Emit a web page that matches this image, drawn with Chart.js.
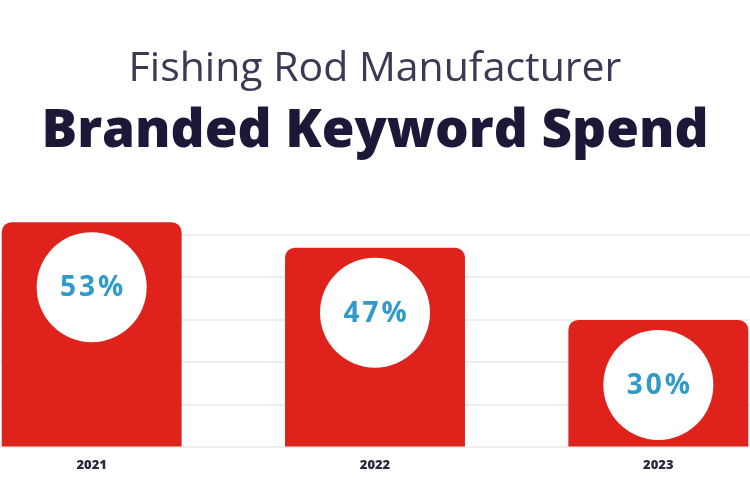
<!DOCTYPE html>
<html>
<head>
<meta charset="utf-8">
<script src="https://cdn.jsdelivr.net/npm/chart.js@4.4.0/dist/chart.umd.min.js"></script>
<style>
  html, body { margin: 0; padding: 0; background: #fff; overflow: hidden; }
  body { width: 750px; height: 500px; position: relative; }
  #wrap { position: absolute; left: -50px; top: 0; width: 850px; height: 500px; }
</style>
</head>
<body>
<div id="wrap"><canvas id="spendChart"></canvas></div>
<script>
const years = ['2021', '2022', '2023'];
const spendShare = [53, 47, 30];
const yMax = 60;
const yStep = 10;

// white disc with the percentage, sitting near the top of each bar
const circleLabels = {
    id: 'circleLabels',
    afterDatasetsDraw(chart) {
        const ctx = chart.ctx;
        const meta = chart.getDatasetMeta(0);
        meta.data.forEach(function(bar, i) {
            const cy = bar.y + 65;
            ctx.save();
            ctx.beginPath();
            ctx.arc(bar.x, cy, 55, 0, Math.PI * 2);
            ctx.fillStyle = '#ffffff';
            ctx.fill();
            ctx.fillStyle = '#2e9bc8';
            ctx.font = '700 28px "Open Sans", sans-serif';
            ctx.letterSpacing = '3px';
            ctx.textAlign = 'center';
            ctx.textBaseline = 'middle';
            ctx.fillText(spendShare[i] + '%', bar.x + 1.5, cy + 1);
            ctx.restore();
        });
    }
};

new Chart(document.getElementById('spendChart'), {
    type: 'bar',
    data: {
        labels: years,
        datasets: [{
            data: spendShare,
            backgroundColor: '#e0221c',
            borderRadius: { topLeft: 10, topRight: 10 },
            borderSkipped: 'bottom',
            barPercentage: 0.635,
            categoryPercentage: 1
        }]
    },
    options: {
        responsive: true,
        maintainAspectRatio: false,
        animation: false,
        layout: { padding: { top: 0, bottom: 25, left: 0, right: 0 } },
        plugins: {
            legend: { display: false },
            tooltip: { enabled: false },
            title: {
                display: true,
                text: 'Fishing Rod Manufacturer',
                color: '#3b3a55',
                font: { family: '"Open Sans", sans-serif', size: 41, weight: '400' },
                padding: { top: 45, bottom: 0 }
            },
            subtitle: {
                display: true,
                text: 'Branded Keyword Spend',
                color: '#1b1838',
                font: { family: '"Open Sans", sans-serif', size: 53, weight: '800' },
                padding: { top: 5.6, bottom: 29 }
            }
        },
        scales: {
            x: {
                grid: { display: false },
                border: { display: false },
                ticks: {
                    color: '#2a2940',
                    font: { family: '"Open Sans", sans-serif', size: 13, weight: '800' },
                    padding: 2
                }
            },
            y: {
                min: 0,
                max: yMax,
                ticks: { display: false, stepSize: yStep },
                border: { display: false },
                grid: {
                    drawTicks: false,
                    lineWidth: 2,
                    color: function(c) {
                        return c.tick && c.tick.value === yMax ? 'rgba(0,0,0,0)' : '#eeeeee';
                    }
                }
            }
        }
    },
    plugins: [circleLabels]
});
</script>
</body>
</html>
